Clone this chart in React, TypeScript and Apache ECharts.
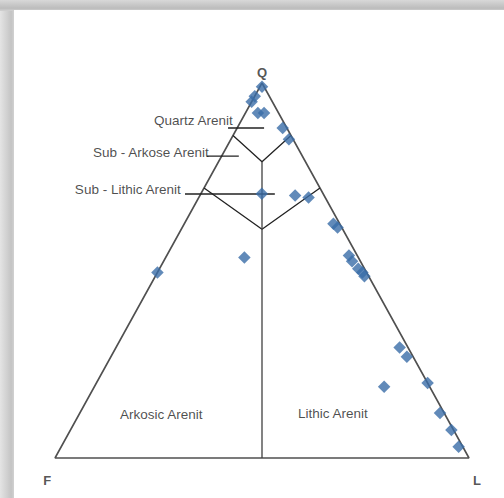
import React, { useEffect, useRef } from "react";
import * as echarts from "echarts";

// Sample compositions, percent (Q = quartz, F = feldspar, L = lithic fragments)
const Q_VALUES = [99, 96.5, 95, 92, 92, 88, 85, 70.5, 70, 69.5, 62.5, 61.5, 54, 52.5, 50.5, 49.5, 48.5, 29.5, 27, 19, 20, 12, 7.5, 3, 49.5, 53.5];
const F_VALUES = [0.5, 3.5, 5, 5, 3.5, 1, 1, 14.8, 7, 4, 1.5, 1, 2, 2, 1.5, 1, 1, 2, 1.5, 11, 0, 1, 0.5, 1, 50.5, 27.5];
const L_VALUES = [0.5, 0, 0, 3, 4.5, 11, 14, 14.7, 23, 26.5, 36, 37.5, 44, 45.5, 48, 49.5, 50.5, 68.5, 71.5, 70, 80, 87, 92, 96, 0, 19];

// Classification boundaries, as [Q, F, L]
const OUTLINE = [[100, 0, 0], [0, 100, 0], [0, 0, 100], [100, 0, 0]];
const UPPER_Y = [[86, 14, 0], [79, 10.5, 10.5], [86, 0, 14]];
const LOWER_CHEVRON = [[72, 28, 0], [61, 19.5, 19.5], [72, 0, 28]];
const DIVIDER = [[79, 10.5, 10.5], [0, 50, 50]];

// Label leader lines (cartesian percent)
const LEADERS = [
  [[41.8, 88.0], [50.5, 88.0]],
  [[36.7, 80.5], [44.4, 80.5]],
  [[31.4, 70.4], [53.1, 70.4]],
];

const REGION_LABELS = ["Quartz Arenit", "Sub - Arkose Arenit", "Sub - Lithic Arenit", "Arkosic Arenit", "Lithic Arenit"];
const REGION_LABEL_POS = [[23.9, 90.1], [9.2, 81.6], [4.8, 71.5], [15.7, 11.5], [58.7, 12]];
const VERTEX_LABELS = ["Q", "F", "L"];
const VERTEX_LABEL_POS = [[50, 102.9], [-1.9, -5.9], [101.9, -5.9]];

const toXY = (t: number[]) => [t[2] + t[0] / 2, t[0]];

export default function App() {
  const ref = useRef<HTMLDivElement>(null);
  useEffect(() => {
    if (!ref.current) return;
    const chart = echarts.init(ref.current, undefined, { renderer: "svg" });
    const points = Q_VALUES.map((q, i) => [L_VALUES[i] + q / 2, q, F_VALUES[i]]);
    const lineStyleBase = { color: "#222222", width: 1.3 };
    const lineSeries = (data: number[][], extra: any = {}) => ({
      type: "line",
      data,
      symbol: "none",
      silent: true,
      clip: false,
      lineStyle: { ...lineStyleBase, ...extra },
      z: 2,
    });
    chart.setOption({
      animation: false,
      backgroundColor: "#ffffff",
      grid: { left: 55, top: 83, width: 414, height: 375, containLabel: false },
      xAxis: { type: "value", min: 0, max: 100, show: false },
      yAxis: { type: "value", min: 0, max: 100, show: false },
      graphic: [
        {
          type: "rect",
          shape: { x: 0, y: 0, width: 15, height: 498 },
          style: {
            fill: new echarts.graphic.LinearGradient(0, 0, 1, 0, [
              { offset: 0, color: "#e4e4e4" },
              { offset: 0.75, color: "#c4c4c4" },
              { offset: 1, color: "#d6d6d6" },
            ]),
          },
          z: -10,
        },
        {
          type: "rect",
          shape: { x: 0, y: 0, width: 504, height: 11 },
          style: {
            fill: new echarts.graphic.LinearGradient(0, 0, 0, 1, [
              { offset: 0, color: "#d8d8d8" },
              { offset: 0.75, color: "#bcbcbc" },
              { offset: 1, color: "#d2d2d2" },
            ]),
          },
          z: -10,
        },
        {
          type: "rect",
          shape: { x: 14, y: 10, width: 490, height: 488 },
          style: { fill: "#ffffff" },
          z: -9,
        },
      ],
      series: [
        lineSeries(OUTLINE.map(toXY), { color: "#505050", width: 1.6 }),
        lineSeries(UPPER_Y.map(toXY)),
        lineSeries(LOWER_CHEVRON.map(toXY)),
        lineSeries(DIVIDER.map(toXY), { color: "#404040" }),
        ...LEADERS.map((l) => lineSeries(l)),
        {
          type: "scatter",
          data: points,
          symbol: "diamond",
          symbolSize: 12.5,
          itemStyle: { color: "#3a6da8" },
          clip: false,
          z: 5,
        },
        {
          type: "scatter",
          data: REGION_LABELS.map((n, i) => ({ name: n, value: REGION_LABEL_POS[i] })),
          symbolSize: 0,
          clip: false,
          silent: true,
          label: {
            show: true,
            position: "right",
            distance: 0,
            formatter: "{b}",
            fontFamily: "Liberation Sans, Arial, sans-serif",
            fontSize: 13.5,
            color: "#1e1e1e",
          },
          z: 6,
        },
        {
          type: "scatter",
          data: VERTEX_LABELS.map((n, i) => ({ name: n, value: VERTEX_LABEL_POS[i] })),
          symbolSize: 0,
          clip: false,
          silent: true,
          label: {
            show: true,
            position: "inside",
            formatter: "{b}",
            fontFamily: "Liberation Sans, Arial, sans-serif",
            fontSize: 13,
            fontWeight: "bold",
            color: "#2a2a2a",
          },
          z: 6,
        },
      ],
    });
    return () => chart.dispose();
  }, []);
  return (
    <div
      ref={ref}
      style={{ position: "fixed", left: 0, top: 0, width: 504, height: 498 }}
    />
  );
}
